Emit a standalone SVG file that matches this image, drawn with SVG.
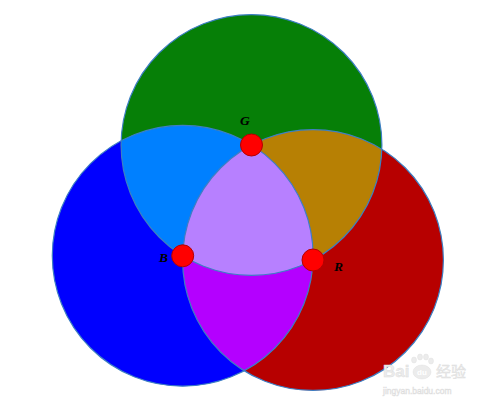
<svg xmlns="http://www.w3.org/2000/svg" width="500" height="409" viewBox="0 0 500 409">
  <style>
    .edge { fill: none; stroke: #3d7fc4; stroke-width: 1.2; }
    .pt { fill: #ff0000; stroke: #b40000; stroke-width: 1; }
    .lbl { font-family: "Liberation Serif", "DejaVu Serif", serif; font-style: italic; font-weight: bold; font-size: 13.5px; fill: #000; }
    .wm { font-family: "Liberation Sans", "DejaVu Sans", "Noto Sans CJK SC", sans-serif; fill: #ececec; stroke: #dcdcdc; stroke-width: 0.4; }
  </style>
  <defs>
    <circle id="cG" cx="251.5" cy="145" r="130.4"/>
    <circle id="cB" cx="182.7" cy="255.8" r="130.4"/>
    <circle id="cR" cx="313" cy="260" r="130.4"/>
    <clipPath id="clipB"><use href="#cB"/></clipPath>
    <clipPath id="clipR"><use href="#cR"/></clipPath>
  </defs>
  <rect width="500" height="409" fill="#ffffff"/>

  <g id="circle-blue"><use href="#cB" fill="#0000ff"/></g>
  <g id="circle-red"><use href="#cR" fill="#b70000"/></g>
  <g id="circle-green"><use href="#cG" fill="#067f07"/></g>

  <g id="regions">
    <use href="#cG" fill="#0080ff" clip-path="url(#clipB)"/>
    <use href="#cG" fill="#b78004" clip-path="url(#clipR)"/>
    <use href="#cB" fill="#b400ff" clip-path="url(#clipR)"/>
    <g clip-path="url(#clipR)"><use href="#cG" fill="#b780ff" clip-path="url(#clipB)"/></g>
  </g>

  <g id="outlines">
    <use href="#cB" class="edge"/>
    <use href="#cR" class="edge"/>
    <use href="#cG" class="edge"/>
  </g>

  <g id="point-G"><circle class="pt" cx="251.5" cy="145" r="11"/><text class="lbl" x="240" y="125">G</text></g>
  <g id="point-B"><circle class="pt" cx="182.7" cy="255.8" r="11"/><text class="lbl" x="159" y="262">B</text></g>
  <g id="point-R"><circle class="pt" cx="313" cy="260" r="11"/><text class="lbl" x="334" y="271">R</text></g>

  <g id="watermark">
    <text class="wm" x="383" y="377" font-size="17" font-weight="bold">Bai</text>
    <g fill="#ececec" stroke="#dcdcdc" stroke-width="0.4">
      <ellipse cx="422" cy="372" rx="9" ry="7"/>
      <ellipse cx="414" cy="360" rx="2.5" ry="3"/>
      <ellipse cx="420" cy="357" rx="2.5" ry="3"/>
      <ellipse cx="426" cy="357" rx="2.5" ry="3"/>
      <ellipse cx="431" cy="361" rx="2.5" ry="3"/>
    </g>
    <text x="422" y="375" font-size="8" text-anchor="middle" font-family="Liberation Sans, sans-serif" fill="#ffffff" font-weight="bold">du</text>
    <text class="wm" x="436" y="377" font-size="15">经验</text>
    <text class="wm" x="383" y="394" font-size="8.5" stroke-width="0.2">jingyan.baidu.com</text>
  </g>
</svg>
